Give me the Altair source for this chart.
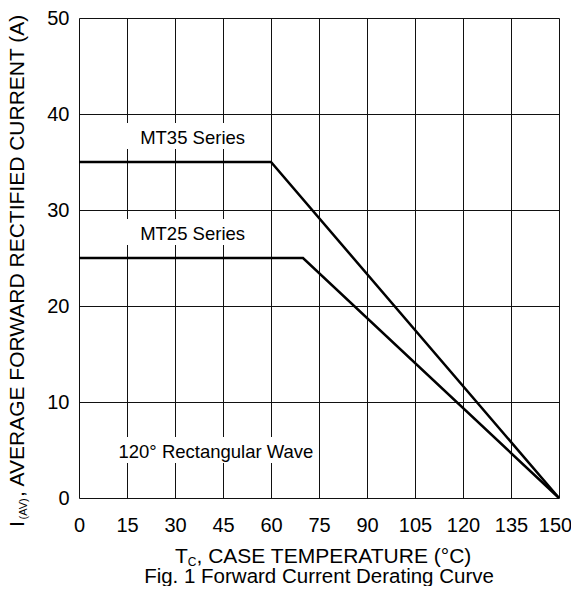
import altair as alt
import pandas as pd

# ---- data ----
x_ticks = [0, 15, 30, 45, 60, 75, 90, 105, 120, 135, 150]
y_ticks = [0, 10, 20, 30, 40, 50]

mt35_temp = [0, 60, 150]
mt35_curr = [35, 35, 0]
mt25_temp = [0, 70, 150]
mt25_curr = [25, 25, 0]

label_texts = ["MT35 Series", "MT25 Series", "120° Rectangular Wave"]
label_x = [35.5, 35.5, 42.8]
label_y = [36.9, 26.9, 4.17]
box_x0 = [13, 13, 10.5]
box_x1 = [57, 57, 74.5]
box_y0 = [36.35, 26.35, 3.65]
box_y1 = [39.05, 29.05, 6.35]

FONT = "Liberation Sans"

lines_df = pd.DataFrame({
    "series": ["MT35"] * len(mt35_temp) + ["MT25"] * len(mt25_temp),
    "temp": mt35_temp + mt25_temp,
    "curr": mt35_curr + mt25_curr,
})
labels_df = pd.DataFrame({"text": label_texts, "x": label_x, "y": label_y,
                          "x0": box_x0, "x1": box_x1, "y0": box_y0, "y1": box_y1})

xs = alt.Scale(domain=[0, 150], nice=False, zero=False)
ys = alt.Scale(domain=[0, 50], nice=False, zero=False)

x_axis = alt.Axis(values=x_ticks, title=None, grid=True, ticks=False, tickSize=0,
                  domain=False, labelFontSize=20, labelPadding=17, labelFont=FONT,
                  labelColor="black", gridColor="#111", gridWidth=1, gridOpacity=1,
                  labelFlush=False, labelOverlap=False,
                  labelOffset=alt.ExprRef("datum.value == 150 ? -4 : 0"))
y_axis = alt.Axis(values=y_ticks, title=None, grid=True, ticks=False, tickSize=0,
                  domain=False, labelFontSize=20, labelPadding=10, labelFont=FONT,
                  labelColor="black", gridColor="#111", gridWidth=1, gridOpacity=1,
                  labelFlush=False, labelOverlap=False)

boxes = alt.Chart(labels_df).mark_rect(fill="white").encode(
    x=alt.X("x0:Q", scale=xs, axis=x_axis),
    x2="x1:Q",
    y=alt.Y("y0:Q", scale=ys, axis=y_axis),
    y2="y1:Q",
)

lines = alt.Chart(lines_df).mark_line(color="black", strokeWidth=2.5).encode(
    x=alt.X("temp:Q", scale=xs),
    y=alt.Y("curr:Q", scale=ys),
    detail="series:N",
)

labels = alt.Chart(labels_df).mark_text(font=FONT, fontSize=18.5, color="black",
                                        baseline="alphabetic", align="center").encode(
    x=alt.X("x:Q", scale=xs),
    y=alt.Y("y:Q", scale=ys),
    text="text:N",
)

one = pd.DataFrame({"k": [0]})


def txt(text, x, y, size, angle=0, align="left", baseline="alphabetic"):
    return alt.Chart(one).mark_text(text=text, font=FONT, fontSize=size, color="black",
                                    align=align, baseline=baseline, angle=angle).encode(
        x=alt.value(x), y=alt.value(y))


# x axis title with subscript
xt1 = txt("T", 96, 545, 21)
xt2 = txt("C", 108.8, 548, 12)
xt3 = txt(", CASE TEMPERATURE (°C)", 117.5, 545, 21)
cap = txt("Fig. 1 Forward Current Derating Curve", 240, 565, 20.5, align="center")

# y axis title (rotated) with subscript
yt1 = txt("I", -55, 509, 21, angle=270)
yt2 = txt("(AV)", -52, 501.5, 11, angle=270)
yt3 = txt(", AVERAGE FORWARD RECTIFIED CURRENT (A)", -55, 479, 21, angle=270)

chart = alt.layer(boxes, lines, labels, xt1, xt2, xt3, cap, yt1, yt2, yt3).properties(
    width=480, height=480,
    padding={"left": 71, "top": 10, "right": 12, "bottom": 88},
    autosize=alt.AutoSizeParams(type="none"),
).configure_view(stroke="black", strokeWidth=1.2).configure(background="white")

chart.save("out.html", embed_options={"renderer": "svg", "actions": False})
